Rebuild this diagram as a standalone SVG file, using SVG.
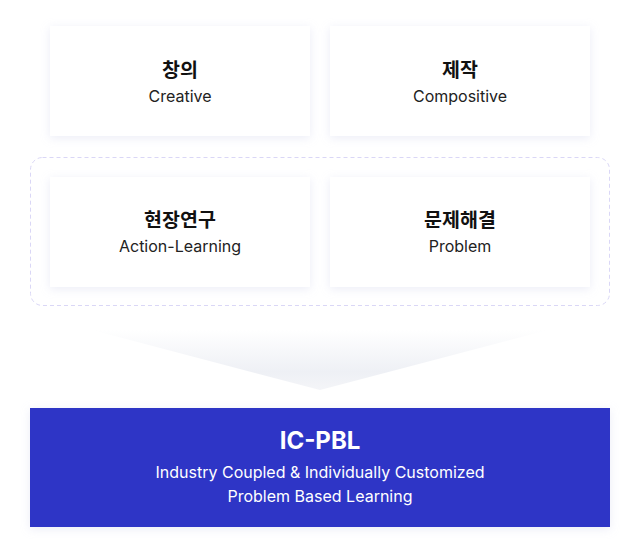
<svg xmlns="http://www.w3.org/2000/svg" width="640" height="540" viewBox="0 0 640 540">
<style>
.card{fill:#ffffff;filter:url(#sh)}
.ko{font-family:Inter,"Noto Sans CJK KR",sans-serif;font-size:19.5px;font-weight:700;fill:#111111;text-anchor:middle}
.en{font-family:Inter,"Noto Sans CJK KR",sans-serif;font-size:16px;fill:#222222;text-anchor:middle}
.wt{font-family:Inter,sans-serif;fill:#ffffff;text-anchor:middle}
</style>
<defs>
<filter id="sh" x="-20%" y="-30%" width="140%" height="160%">
<feDropShadow dx="0" dy="2" stdDeviation="5" flood-color="#c8cbe6" flood-opacity="0.35"/>
</filter>
<linearGradient id="ag" x1="0" y1="0" x2="0" y2="1">
<stop offset="0" stop-color="#ffffff"/>
<stop offset="0.7" stop-color="#eef0f5"/>
<stop offset="1" stop-color="#f4f5f8"/>
</linearGradient>
</defs>
<rect width="640" height="540" fill="#ffffff"/>
<g id="group-box">
<rect x="30.5" y="157.5" width="579" height="148" rx="12" fill="none" stroke="#dad7f6" stroke-dasharray="4 3"/>
</g>
<g id="connectors">
<polygon points="92,330 548,330 320,390" fill="url(#ag)"/>
</g>
<g id="n-creative">
<rect class="card" x="50" y="26" width="260" height="110"/>
<text class="ko" x="180" y="77">창의</text>
<text class="en" x="180" y="102">Creative</text>
</g>
<g id="n-compositive">
<rect class="card" x="330" y="26" width="260" height="110"/>
<text class="ko" x="460" y="77">제작</text>
<text class="en" x="460" y="102">Compositive</text>
</g>
<g id="n-action">
<rect class="card" x="50" y="177" width="260" height="110"/>
<text class="ko" x="180" y="227">현장연구</text>
<text class="en" x="180" y="252">Action-Learning</text>
</g>
<g id="n-problem">
<rect class="card" x="330" y="177" width="260" height="110"/>
<text class="ko" x="460" y="227">문제해결</text>
<text class="en" x="460" y="252">Problem</text>
</g>
<g id="n-icpbl">
<rect x="30" y="408" width="580" height="119" fill="#2d35c6" filter="url(#sh)"/>
<text class="wt" x="320" y="449" font-size="24" font-weight="700">IC-PBL</text>
<text class="wt" x="320" y="478" font-size="16">Industry Coupled &amp; Individually Customized</text>
<text class="wt" x="320" y="502" font-size="16">Problem Based Learning</text>
</g>
</svg>
